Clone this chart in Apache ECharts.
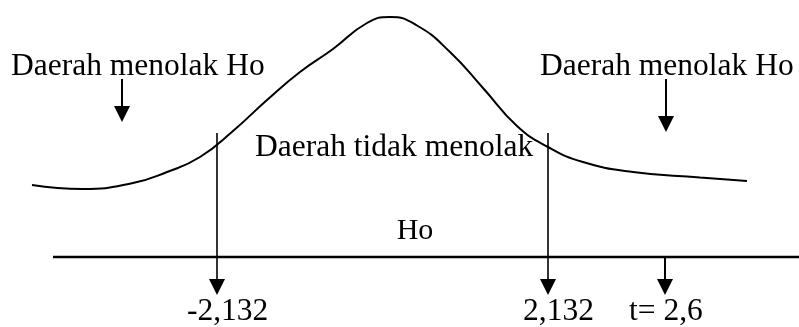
<!DOCTYPE html>
<html><head><meta charset="utf-8">
<script src="https://cdn.jsdelivr.net/npm/echarts@6/dist/echarts.min.js"></script>
<style>html,body{margin:0;padding:0;background:#fff}#c{width:799px;height:327px}</style>
</head><body><div id="c"></div>
<script>
// Schematic diagram units (x to the right, y downward)
const curveX = [32, 83, 133, 167, 200, 233, 267, 300, 333, 367, 390, 417, 450, 483, 517, 548, 583, 633, 700, 747];
const curveY = [185, 189, 183, 172, 157, 131, 100, 72, 49, 23, 17, 25.5, 52, 88, 126, 147, 162, 172, 177.5, 181];
const axisStart = 53, axisEnd = 799, axisLevel = 257;
const criticalPos = [217, 548];           // diagram position of critical values
const criticalLabels = ['-2,132', '2,132'];
const criticalTop = 133;
const tPos = 665;
const tLabel = 't= 2,6';
const arrowTip = 295;
const regionArrowX = [122, 666];
const regionArrowTip = [122, 132];
const regionArrowTop = 79;
const regionLabels = ['Daerah menolak Ho', 'Daerah tidak menolak', 'Ho'];

const black = '#000';
const font = '"Liberation Serif", "Times New Roman", serif';

const curveData = curveX.map((x, i) => [x, curveY[i]]);
const series = [];
series.push({type: 'line', data: curveData, smooth: true, showSymbol: false, symbol: 'none',
  lineStyle: {color: black, width: 2}, silent: true});
series.push({type: 'line', data: [[axisStart, axisLevel], [axisEnd, axisLevel]], symbol: 'none',
  lineStyle: {color: black, width: 2.5}, silent: true});
criticalPos.forEach(x => {
  series.push({type: 'line', data: [[x, criticalTop], [x, arrowTip - 10]], symbol: 'none',
    lineStyle: {color: black, width: 1.6}, silent: true});
});
series.push({type: 'line', data: [[tPos, axisLevel], [tPos, arrowTip - 10]], symbol: 'none',
  lineStyle: {color: black, width: 2}, silent: true});
regionArrowX.forEach((x, i) => {
  series.push({type: 'line', data: [[x, regionArrowTop], [x, regionArrowTip[i] - 10]], symbol: 'none',
    lineStyle: {color: black, width: 2}, silent: true});
});
const tips = criticalPos.map(x => [x, arrowTip]).concat([[tPos, arrowTip]])
  .concat(regionArrowX.map((x, i) => [x, regionArrowTip[i]]));
series.push({type: 'scatter', data: tips, symbol: 'triangle', symbolRotate: 180,
  symbolSize: [16, 16], symbolOffset: [0, -8], itemStyle: {color: black, opacity: 1}, silent: true});

const chart = echarts.init(document.getElementById('c'), null, {renderer: 'canvas'});
const txt = (text, x, y, size, align) => ({type: 'text', x: x, y: y, silent: true,
  style: {text: text, fill: black, fontFamily: font, fontSize: size, align: align || 'left', verticalAlign: 'middle'}});
chart.setOption({
  animation: false,
  backgroundColor: '#fff',
  grid: {left: 0, right: 0, top: 0, bottom: 0},
  xAxis: {type: 'value', min: 0, max: 799, show: false},
  yAxis: {type: 'value', min: 0, max: 327, inverse: true, show: false},
  series: series,
  graphic: [
    txt(regionLabels[0], 11, 67, 31.5),
    txt(regionLabels[0], 540, 67, 31.5),
    txt(regionLabels[1], 255, 148, 31.5),
    txt(regionLabels[2], 415, 231, 30, 'center'),
    txt(criticalLabels[0], 187, 312, 31.5),
    txt(criticalLabels[1], 523, 312, 31.5),
    txt(tLabel, 629, 312, 31.5)
  ]
});
</script></body></html>
